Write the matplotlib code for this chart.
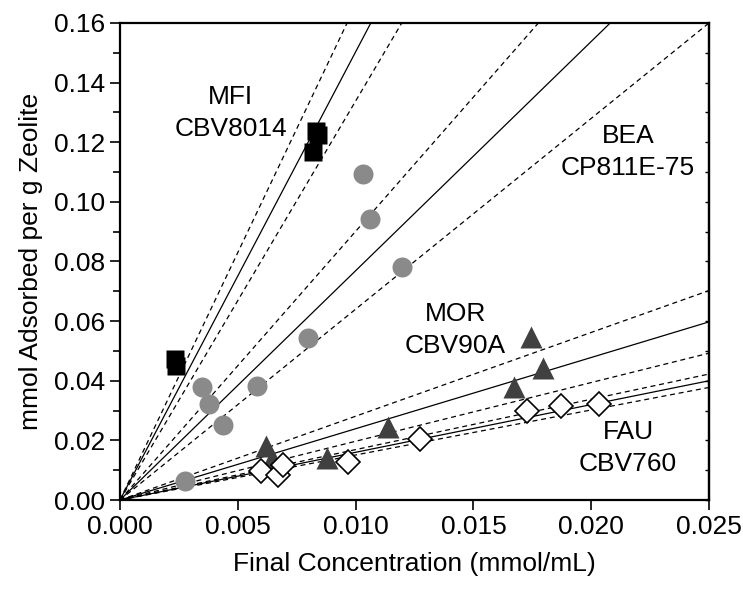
import numpy as np
import matplotlib
matplotlib.use("Agg")
import matplotlib.pyplot as plt
from matplotlib.ticker import MultipleLocator, FormatStrFormatter, NullFormatter

plt.rcParams['font.family'] = ['Liberation Sans', 'DejaVu Sans']

# MFI CBV8014 (black squares)
mfi_x = [0.00233, 0.00238, 0.00818, 0.00832, 0.00839]
mfi_y = [0.0472, 0.0450, 0.1166, 0.1239, 0.1225]
# BEA CP811E-75 (grey circles)
bea_x = [0.00276, 0.00347, 0.00378, 0.00438, 0.00583, 0.00799, 0.0103, 0.01061, 0.01196]
bea_y = [0.0064, 0.0378, 0.0322, 0.0252, 0.0383, 0.0543, 0.1094, 0.0944, 0.0783]
# MOR CBV90A (dark triangles)
mor_x = [0.00618, 0.00644, 0.0088, 0.01139, 0.01673, 0.01743, 0.01796]
mor_y = [0.0182, 0.0137, 0.0142, 0.0246, 0.0378, 0.0548, 0.0442]
# FAU CBV760 (open diamonds)
fau_x = [0.00597, 0.00672, 0.00693, 0.00969, 0.01273, 0.01729, 0.01872, 0.02034]
fau_y = [0.00983, 0.00839, 0.01175, 0.01285, 0.0204, 0.0300, 0.0315, 0.0321]

# linear fits through origin: (fit, upper, lower) slopes
mfi_fit = [15.03, 16.6, 13.38]
bea_fit = [7.69, 9.01, 6.40]
mor_fit = [2.39, 2.81, 1.97]
fau_fit = [1.60, 1.69, 1.51]

fig = plt.figure(figsize=(7.43, 5.89), dpi=100)
ax = fig.add_axes([0.1615, 0.1511, 0.7928, 0.8099])

xx = np.array([0.0, 0.025])
for s in [mfi_fit, bea_fit, mor_fit, fau_fit]:
    ax.plot(xx, s[0]*xx, color='black', lw=0.9, zorder=2)
    for k in s[1:]:
        ax.plot(xx, k*xx, color='black', lw=0.9, ls=(0, (4, 3)), zorder=2)

ax.plot(mfi_x, mfi_y, 's', ms=13.5, color='black', mec='none', zorder=3)
ax.plot(bea_x, bea_y, 'o', ms=14.4, color='#8a8a8a', mec='none', zorder=3)
ax.plot(mor_x, mor_y, '^', ms=16, color='#404040', mec='none', zorder=3)
ax.plot(fau_x, fau_y, 'D', ms=12, mfc='white', mec='black', mew=1.2, zorder=4)

fs = 19
ax.text(0.00469, 0.1299, "MFI\nCBV8014", ha='center', va='center', fontsize=fs, linespacing=1.4)
ax.text(0.02156, 0.1168, "BEA\nCP811E-75", ha='center', va='center', fontsize=fs, linespacing=1.4)
ax.text(0.01424, 0.0571, "MOR\nCBV90A", ha='center', va='center', fontsize=fs, linespacing=1.4)
ax.text(0.02156, 0.01745, "FAU\nCBV760", ha='center', va='center', fontsize=fs, linespacing=1.4)

ax.set_xlim(0, 0.025)
ax.set_ylim(0, 0.16)
ax.xaxis.set_major_locator(MultipleLocator(0.005))
ax.yaxis.set_major_locator(MultipleLocator(0.02))
ax.yaxis.set_minor_locator(MultipleLocator(0.01))
ax.xaxis.set_major_formatter(FormatStrFormatter('%.3f'))
ax.yaxis.set_major_formatter(FormatStrFormatter('%.2f'))
ax.tick_params(axis='both', which='major', labelsize=fs, direction='out', length=7, width=1.2)
ax.tick_params(axis='y', which='minor', direction='out', length=5, width=1.2)

# small inward ticks on the right spine
sec = ax.secondary_yaxis('right')
sec.yaxis.set_major_locator(MultipleLocator(0.01))
sec.yaxis.set_major_formatter(NullFormatter())
sec.tick_params(direction='in', length=3, width=1.0)
sec.spines['right'].set_linewidth(1.6)

for sp in ax.spines.values():
    sp.set_linewidth(1.6)

ax.set_xlabel("Final Concentration (mmol/mL)", fontsize=fs, labelpad=10)
ax.set_ylabel("mmol Adsorbed per g Zeolite", fontsize=fs, labelpad=8)

fig.savefig("out.png", dpi=100)
